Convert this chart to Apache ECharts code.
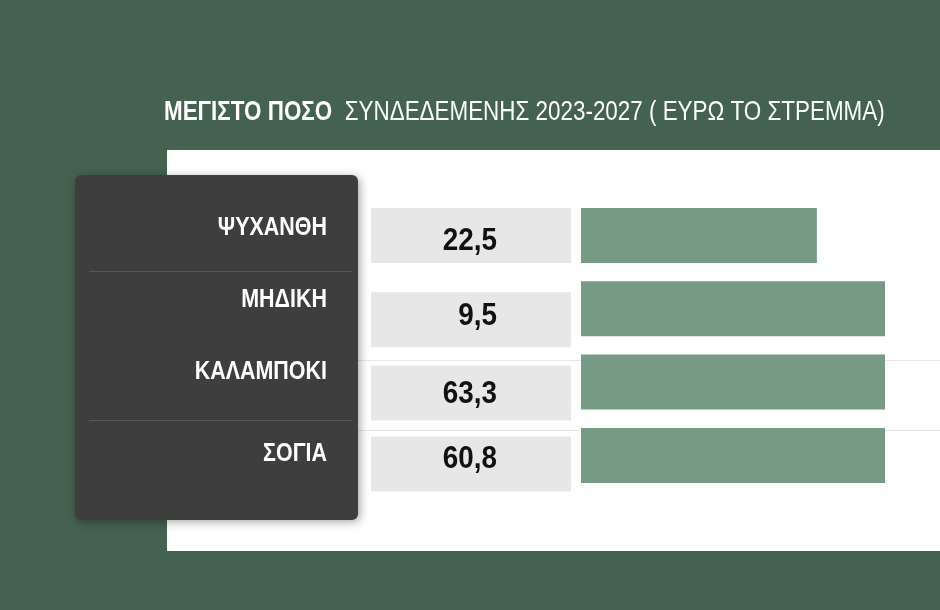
<!DOCTYPE html>
<html>
<head>
<meta charset="utf-8">
<script src="https://cdn.jsdelivr.net/npm/echarts@6/dist/echarts.min.js"></script>
<style>
html, body { margin: 0; padding: 0; background: #45614f; }
#container { width: 940px; height: 610px; }
</style>
</head>
<body>
<div id="container"></div>
<script>
var crops = ['ΨΥΧΑΝΘΗ', 'ΜΗΔΙΚΗ', 'ΚΑΛΑΜΠΟΚΙ', 'ΣΟΓΙΑ'];
var amounts = [22.5, 9.5, 63.3, 60.8];      // ευρώ το στρέμμα
var barLength = [77.6, 100, 100, 100];      // μήκος μπάρας όπως φαίνεται στην εικόνα (% του πλήρους)
var titleBold = 'ΜΕΓΙΣΤΟ ΠΟΣΟ';
var titleRest = 'ΣΥΝΔΕΔΕΜΕΝΗΣ 2023-2027 ( ΕΥΡΩ ΤΟ ΣΤΡΕΜΜΑ)';

var FONT = "'Liberation Sans', Arial, sans-serif";

function distributionbars() {
    var dom = document.getElementById("container");
    var myChart = echarts.init(dom);
    var option = null;

    // μικρές διορθώσεις θέσης ανά γραμμή (όπως στο πρωτότυπο)
    var labelShift = [-7.5, -9, -10.5, -1.5];
    var boxShift = [0, 11, 11, 8.5];
    var valueShift = [6, 7, 12, 3.5];

    var cellData = [];
    for (var i = 0; i < crops.length; i++) {
        cellData.push([0, i, amounts[i]]);
    }

    var renderCell = function (params, api) {
        var idx = api.value(1);
        var c = api.coord([0, idx]);
        var cy = c[1];
        var txt = String(api.value(2).toFixed(1)).replace('.', ',');
        return {
            type: 'group',
            children: [
                {
                    type: 'text',
                    x: 327, y: cy + labelShift[idx],
                    scaleX: 0.81,
                    style: {
                        x: 0, y: 0,
                        text: crops[idx],
                        fill: '#ffffff',
                        font: 'bold 26.5px ' + FONT,
                        align: 'right',
                        verticalAlign: 'middle'
                    }
                },
                {
                    type: 'rect',
                    shape: { x: 371, y: cy + boxShift[idx] - 27.5, width: 200, height: 55 },
                    style: { fill: '#e7e7e7' }
                },
                {
                    type: 'text',
                    x: 497, y: cy + valueShift[idx],
                    scaleX: 0.87,
                    style: {
                        x: 0, y: 0,
                        text: txt,
                        fill: '#111111',
                        font: 'bold 32px ' + FONT,
                        align: 'right',
                        verticalAlign: 'middle'
                    }
                }
            ]
        };
    };

    option = {
        backgroundColor: '#45614f',
        animation: false,
        graphic: [
            {
                type: 'rect', z: 0,
                shape: { x: 167, y: 150, width: 773, height: 401 },
                style: { fill: '#ffffff' }
            },
            {
                type: 'line', z: 1,
                shape: { x1: 358, y1: 360.5, x2: 940, y2: 360.5 },
                style: { stroke: '#e8e8e8', lineWidth: 1 }
            },
            {
                type: 'line', z: 1,
                shape: { x1: 358, y1: 430.5, x2: 940, y2: 430.5 },
                style: { stroke: '#e8e8e8', lineWidth: 1 }
            },
            {
                type: 'rect', z: 1,
                shape: { x: 75, y: 175, width: 283, height: 345, r: 6 },
                style: {
                    fill: '#3e3e3e',
                    shadowBlur: 10,
                    shadowOffsetX: 2,
                    shadowOffsetY: 2,
                    shadowColor: 'rgba(0,0,0,0.35)'
                }
            },
            {
                type: 'line', z: 1,
                shape: { x1: 89, y1: 271.5, x2: 352, y2: 271.5 },
                style: { stroke: '#575757', lineWidth: 1 }
            },
            {
                type: 'line', z: 1,
                shape: { x1: 89, y1: 420.5, x2: 352, y2: 420.5 },
                style: { stroke: '#575757', lineWidth: 1 }
            },
            {
                type: 'text', z: 5,
                x: 164, y: 112.5,
                scaleX: 0.815,
                style: {
                    x: 0, y: 0,
                    text: '{b|' + titleBold + '}  {r|' + titleRest + '}',
                    verticalAlign: 'middle',
                    rich: {
                        b: { fontFamily: FONT, fontWeight: 'bold', fontSize: 27.5, fill: '#ffffff' },
                        r: { fontFamily: FONT, fontWeight: 'normal', fontSize: 27.5, fill: '#ffffff' }
                    },
                    fill: '#ffffff',
                    font: '27.5px ' + FONT
                }
            }
        ],
        grid: {
            left: 581,
            top: 198.8,
            width: 304,
            height: 293.3
        },
        xAxis: {
            type: 'value',
            min: 0,
            max: 100,
            show: false
        },
        yAxis: {
            type: 'category',
            data: crops,
            inverse: true,
            show: false
        },
        series: [
            {
                name: 'bars',
                type: 'bar',
                data: barLength,
                barWidth: 55,
                itemStyle: { color: '#779a84' },
                silent: true,
                z: 3
            },
            {
                name: 'cells',
                type: 'custom',
                data: cellData,
                encode: { x: 0, y: 1 },
                renderItem: renderCell,
                clip: false,
                silent: true,
                z: 4
            }
        ]
    };
    if (option && typeof option === "object") {
        myChart.setOption(option, true);
    }
}
distributionbars();
</script>
</body>
</html>
